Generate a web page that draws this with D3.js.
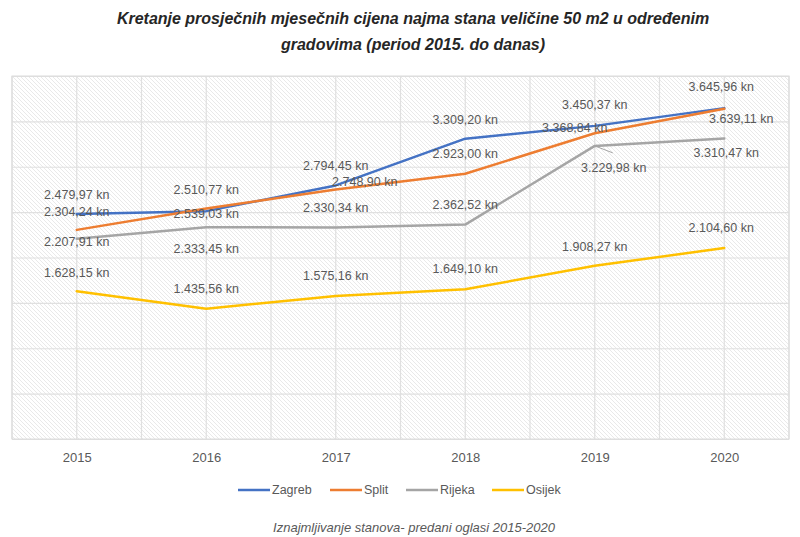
<!DOCTYPE html>
<html>
<head>
<meta charset="utf-8">
<script src="https://cdn.jsdelivr.net/npm/d3@7"></script>
<style>
  html, body { margin: 0; padding: 0; background: #fff; }
  svg { display: block; }
</style>
</head>
<body>
<svg id="chart" width="800" height="537"></svg>
<script>
// ---------- DATA ----------
const years = ["2015", "2016", "2017", "2018", "2019", "2020"];
const seriesNames = ["Zagreb", "Split", "Rijeka", "Osijek"];
const zagreb = [2479.97, 2510.77, 2794.45, 3309.20, 3450.37, 3645.96];
const split  = [2304.24, 2539.03, 2748.90, 2923.00, 3368.84, 3639.11];
const rijeka = [2207.91, 2333.45, 2330.34, 2362.52, 3229.98, 3310.47];
const osijek = [1628.15, 1435.56, 1575.16, 1649.10, 1908.27, 2104.60];
const yDomain = [0, 4000];
const titleLines = [
  "Kretanje prosječnih mjesečnih cijena najma stana veličine 50 m2 u određenim",
  "gradovima (period 2015. do danas)"
];
const caption = "Iznajmljivanje stanova- predani oglasi 2015-2020";

// ---------- LAYOUT / STYLE (separate from data) ----------
const colors = ["#4472C4", "#ED7D31", "#A5A5A5", "#FFC000"];
// data label placement offsets (px) relative to each point
const labelDx = [
  [0, 0, 0, 0, 0, -3],
  [0, 0, 29, 0, -20, 17],
  [0, 0, 0, 0, 19, 2],
  [0, 0, 0, 0, 0, -3]
];
const labelDy = [
  [-19, -21, -19, -19, -21, -21],
  [-18, 5, -8, -20, -5, 10],
  [3, 22, -20, -20, 22, 14],
  [-18, -20, -20, -20, -19, -20]
];

const values = [zagreb, split, rijeka, osijek];
const series = seriesNames.map((name, i) => ({
  name, color: colors[i],
  points: years.map((yr, j) => ({ year: yr, value: values[i][j], dx: labelDx[i][j], dy: labelDy[i][j] }))
}));

const svg = d3.select("#chart");
const plot = { left: 12, right: 789, top: 76, bottom: 439 };

const x = d3.scalePoint().domain(years).range([plot.left, plot.right]).padding(0.5);
const y = d3.scaleLinear().domain(yDomain).range([plot.bottom, plot.top]);

const locale = d3.formatLocale({ decimal: ",", thousands: ".", grouping: [3], currency: ["", ""] });
const fmt = v => locale.format(",.2f")(v) + " kn";

// hatch pattern
const defs = svg.append("defs");
const pat = defs.append("pattern")
  .attr("id", "hatch").attr("patternUnits", "userSpaceOnUse")
  .attr("width", 4).attr("height", 4);
pat.append("rect").attr("width", 4).attr("height", 4).attr("fill", "#ffffff");
pat.append("path").attr("d", "M-1,-1 L5,5 M3,-1 L5,1 M-1,3 L1,5")
  .attr("stroke", "#e6e6e6").attr("stroke-width", 0.9);

// plot background
svg.append("rect")
  .attr("x", plot.left).attr("y", plot.top)
  .attr("width", plot.right - plot.left).attr("height", plot.bottom - plot.top)
  .attr("fill", "url(#hatch)");

// gridlines
const grid = svg.append("g");
grid.selectAll("line.h").data(y.ticks(8)).join("line")
  .attr("x1", plot.left).attr("x2", plot.right)
  .attr("y1", d => y(d) + 0.5).attr("y2", d => y(d) + 0.5)
  .attr("stroke", "#e0e0e0").attr("stroke-width", 1.2);
const step = x.step();
const vPos = [];
years.forEach(yr => { vPos.push(x(yr) - step / 2); vPos.push(x(yr)); });
vPos.push(x(years[years.length - 1]) + step / 2);
grid.selectAll("line.v").data(vPos).join("line")
  .attr("x1", d => d).attr("x2", d => d)
  .attr("y1", plot.top).attr("y2", plot.bottom)
  .attr("stroke", "#e0e0e0").attr("stroke-width", 1.2);

// plot border
svg.append("rect")
  .attr("x", plot.left).attr("y", plot.top)
  .attr("width", plot.right - plot.left).attr("height", plot.bottom - plot.top)
  .attr("fill", "none").attr("stroke", "#dcdcdc").attr("stroke-width", 1);

// x axis labels
const xAxis = d3.axisBottom(x).tickSize(0).tickPadding(14);
const gx = svg.append("g").attr("transform", `translate(0,${plot.bottom})`).call(xAxis);
gx.select(".domain").remove();
gx.selectAll("text")
  .attr("fill", "#595959")
  .style("font-family", "'Liberation Sans', Arial, sans-serif")
  .style("font-size", "13px");

// lines
const line = d3.line().x(d => x(d.year)).y(d => y(d.value));
svg.append("g").selectAll("path").data(series).join("path")
  .attr("d", d => line(d.points))
  .attr("fill", "none")
  .attr("stroke", d => d.color)
  .attr("stroke-width", 2.5)
  .attr("stroke-linejoin", "round")
  .attr("stroke-linecap", "round");

// leader line for Rijeka 2019 label
const rj19 = series[2].points[4];
svg.append("line")
  .attr("x1", x(rj19.year)).attr("y1", y(rj19.value))
  .attr("x2", x(rj19.year) + 18).attr("y2", y(rj19.value) + 7)
  .attr("stroke", "#A5A5A5").attr("stroke-width", 1);

// data labels
const lg = svg.append("g")
  .style("font-family", "'Liberation Sans', Arial, sans-serif")
  .style("font-size", "12.5px")
  .attr("fill", "#595959");
series.forEach(s => {
  lg.selectAll(null).data(s.points).join("text")
    .attr("x", d => x(d.year) + d.dx)
    .attr("y", d => y(d.value) + d.dy)
    .attr("text-anchor", "middle")
    .attr("dominant-baseline", "central")
    .text(d => fmt(d.value));
});

// title
svg.append("g").selectAll("text").data(titleLines).join("text")
  .attr("x", 413).attr("y", (d, i) => 24 + i * 26)
  .attr("text-anchor", "middle")
  .attr("fill", "#262626")
  .style("font-family", "'Liberation Sans', Arial, sans-serif")
  .style("font-weight", "bold").style("font-style", "italic")
  .style("font-size", "16px")
  .text(d => d);

// legend
const legendX = [238, 330, 406, 492];
const leg = svg.append("g").attr("transform", "translate(0,490)");
const items = leg.selectAll("g").data(series).join("g")
  .attr("transform", (d, i) => `translate(${legendX[i]},0)`);
items.append("line").attr("x1", 0).attr("x2", 32).attr("y1", 0).attr("y2", 0)
  .attr("stroke", d => d.color).attr("stroke-width", 2.5);
items.append("text").attr("x", 34).attr("y", 0)
  .attr("dominant-baseline", "central")
  .attr("fill", "#595959")
  .style("font-family", "'Liberation Sans', Arial, sans-serif")
  .style("font-size", "12.5px")
  .text(d => d.name);

// caption
svg.append("text")
  .attr("x", 414).attr("y", 527)
  .attr("text-anchor", "middle").attr("dominant-baseline", "central")
  .attr("fill", "#595959")
  .style("font-family", "'Liberation Sans', Arial, sans-serif")
  .style("font-style", "italic").style("font-size", "13px")
  .text(caption);
</script>
</body>
</html>
